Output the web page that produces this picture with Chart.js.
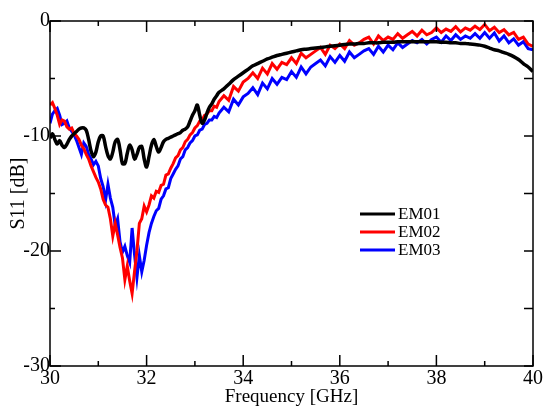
<!DOCTYPE html>
<html>
<head>
<meta charset="utf-8">
<script src="https://cdn.jsdelivr.net/npm/chart.js@4.4.1/dist/chart.umd.min.js"></script>
<style>
  html, body { margin: 0; padding: 0; background: #fff; }
  #cv { display: block; }
</style>
</head>
<body>
<canvas id="cv" width="546" height="408"></canvas>
<script>
// frequency samples [GHz]: 0.05 step up to 33.5, then 0.1 step
const FREQ = [
  30.00,30.05,30.10,30.15,30.20,30.25,30.30,30.35,30.40,30.45,
  30.50,30.55,30.60,30.65,30.70,30.75,30.80,30.85,30.90,30.95,
  31.00,31.05,31.10,31.15,31.20,31.25,31.30,31.35,31.40,31.45,
  31.50,31.55,31.60,31.65,31.70,31.75,31.80,31.85,31.90,31.95,
  32.00,32.05,32.10,32.15,32.20,32.25,32.30,32.35,32.40,32.45,
  32.50,32.55,32.60,32.65,32.70,32.75,32.80,32.85,32.90,32.95,
  33.00,33.05,33.10,33.15,33.20,33.25,33.30,33.35,33.40,33.45,33.50,
  33.6,33.7,33.8,33.9,
  34.0,34.1,34.2,34.3,34.4,34.5,34.6,34.7,34.8,34.9,
  35.0,35.1,35.2,35.3,35.4,35.5,35.6,35.7,35.8,35.9,
  36.0,36.1,36.2,36.3,36.4,36.5,36.6,36.7,36.8,36.9,
  37.0,37.1,37.2,37.3,37.4,37.5,37.6,37.7,37.8,37.9,
  38.0,38.1,38.2,38.3,38.4,38.5,38.6,38.7,38.8,38.9,
  39.0,39.1,39.2,39.3,39.4,39.5,39.6,39.7,39.8,39.9,
  40.0
];

const EM01 = [
  -10.2,-9.8,-10.3,-10.7,-10.4,-10.8,-11.0,-10.7,-10.3,-10.0,
  -9.8,-9.6,-9.4,-9.3,-9.3,-9.5,-10.3,-11.3,-11.8,-11.4,
  -10.5,-10.0,-10.0,-10.9,-11.7,-12.0,-11.4,-10.5,-10.3,-11.2,
  -12.4,-12.4,-11.5,-10.8,-11.2,-12.0,-11.6,-11.0,-10.9,-12.0,
  -12.7,-11.8,-10.8,-10.3,-10.9,-11.4,-11.0,-10.5,-10.3,-10.2,
  -10.1,-10.0,-9.9,-9.8,-9.7,-9.5,-9.4,-9.2,-8.7,-8.2,
  -7.8,-7.3,-8.2,-8.9,-8.6,-8.0,-7.5,-7.2,-6.8,-6.5,-6.2,
  -5.9,-5.5,-5.1,-4.8,
  -4.5,-4.2,-3.9,-3.7,-3.5,-3.3,-3.15,-3.0,-2.9,-2.8,
  -2.7,-2.6,-2.5,-2.45,-2.4,-2.35,-2.3,-2.25,-2.2,-2.15,
  -2.1,-2.05,-2.0,-2.0,-1.95,-1.95,-1.9,-1.9,-1.9,-1.85,
  -1.85,-1.85,-1.8,-1.8,-1.8,-1.8,-1.8,-1.8,-1.8,-1.8,
  -1.8,-1.85,-1.85,-1.9,-1.9,-1.95,-1.95,-2.0,-2.05,-2.1,
  -2.2,-2.35,-2.5,-2.6,-2.75,-2.9,-3.1,-3.35,-3.7,-4.0,
  -4.4
];

const EM02 = [
  -7.3,-7.1,-7.6,-8.2,-9.0,-8.6,-8.7,-9.2,-9.4,-9.3,
  -9.8,-10.0,-10.3,-10.8,-11.1,-11.6,-12.0,-12.6,-13.1,-13.6,
  -14.0,-14.6,-15.5,-16.0,-16.2,-17.2,-18.7,-17.6,-18.6,-19.7,
  -20.6,-22.5,-21.3,-22.6,-23.7,-21.8,-20.0,-17.6,-17.2,-16.1,
  -16.6,-16.0,-15.2,-15.4,-14.8,-14.9,-14.3,-14.2,-13.4,-13.3,
  -12.8,-12.4,-11.9,-11.7,-11.2,-11.0,-10.5,-10.3,-9.9,-9.7,
  -9.3,-9.1,-8.7,-8.6,-8.2,-8.1,-7.8,-7.8,-7.4,-7.5,-7.0,
  -6.5,-6.9,-5.7,-6.1,
  -5.3,-5.0,-4.5,-5.0,-4.1,-4.6,-3.7,-4.2,-3.6,-3.8,
  -3.2,-3.7,-2.8,-3.2,-2.9,-2.6,-2.3,-2.9,-2.1,-2.4,
  -2.0,-2.4,-1.7,-2.1,-1.9,-1.6,-1.4,-2.0,-1.3,-1.7,
  -1.4,-1.6,-1.1,-1.5,-1.2,-0.9,-1.3,-0.8,-1.2,-1.0,
  -0.6,-1.0,-0.7,-0.9,-0.5,-0.95,-0.6,-0.8,-0.45,-0.75,
  -0.3,-0.85,-0.55,-1.0,-0.75,-1.2,-1.0,-1.6,-1.4,-2.0,
  -2.2
];

const EM03 = [
  -8.9,-8.1,-7.8,-7.6,-8.2,-9.0,-8.9,-8.7,-9.3,-9.6,
  -9.9,-10.4,-11.0,-11.6,-10.6,-10.9,-11.6,-12.0,-12.5,-12.2,
  -12.6,-13.7,-14.4,-15.6,-14.2,-15.4,-16.2,-17.8,-17.2,-19.2,
  -20.1,-19.6,-20.4,-21.0,-18.0,-20.3,-22.3,-20.4,-21.8,-20.8,
  -19.5,-18.4,-17.6,-17.0,-16.5,-16.3,-15.5,-15.2,-14.6,-14.5,
  -13.7,-13.3,-12.9,-12.6,-12.0,-11.8,-11.2,-11.0,-10.6,-10.4,
  -10.0,-9.9,-9.5,-9.4,-9.0,-8.9,-8.6,-8.6,-8.3,-8.4,-8.0,
  -7.5,-7.9,-6.8,-7.3,
  -6.6,-6.3,-5.8,-6.4,-5.4,-5.9,-5.0,-5.5,-4.9,-5.1,
  -4.4,-4.9,-4.0,-4.6,-4.0,-3.7,-3.4,-3.9,-3.1,-3.6,
  -3.0,-3.5,-2.7,-3.2,-2.9,-2.6,-2.4,-2.9,-2.2,-2.7,
  -2.1,-2.5,-1.9,-2.3,-2.0,-1.7,-1.9,-1.6,-2.0,-1.6,
  -1.4,-1.85,-1.3,-1.7,-1.2,-1.6,-1.3,-1.5,-1.1,-1.5,
  -1.0,-1.5,-1.05,-1.75,-1.3,-1.9,-1.55,-2.1,-1.8,-2.4,
  -2.5
];

const SERIES = ['EM01', 'EM02', 'EM03'];
const X_TICKS = [30, 31, 32, 33, 34, 35, 36, 37, 38, 39, 40];
const Y_TICKS = [0, -5, -10, -15, -20, -25, -30];

const FONT = '"Liberation Serif", "Times New Roman", serif';
const COLORS = { EM01: '#000000', EM02: '#ff0000', EM03: '#0000ff' };

function pts(vals) {
  return vals.map((v, i) => ({ x: FREQ[i], y: v }));
}

// box, inward ticks and the legend
const frame = {
  id: 'frame',
  afterDatasetsDraw(chart) {
    const { ctx, chartArea: a, scales: { x, y } } = chart;
    ctx.save();
    ctx.strokeStyle = '#000';
    ctx.lineWidth = 1.5;
    ctx.strokeRect(a.left, a.top, a.right - a.left, a.bottom - a.top);
    ctx.beginPath();
    X_TICKS.forEach(v => {
      const px = x.getPixelForValue(v);
      const len = v % 2 === 0 ? 11 : 5;
      ctx.moveTo(px, a.bottom); ctx.lineTo(px, a.bottom - len);
      ctx.moveTo(px, a.top);    ctx.lineTo(px, a.top + len);
    });
    Y_TICKS.forEach(v => {
      const py = y.getPixelForValue(v);
      const len = v % 10 === 0 ? 11 : 5;
      ctx.moveTo(a.left, py);  ctx.lineTo(a.left + len, py);
      ctx.moveTo(a.right, py); ctx.lineTo(a.right - 9, py);
    });
    ctx.stroke();

    ctx.font = '17px ' + FONT;
    ctx.textBaseline = 'middle';
    ctx.fillStyle = '#000';
    chart.data.datasets.forEach((ds, i) => {
      const ly = 214 + i * 18;
      ctx.strokeStyle = ds.borderColor;
      ctx.lineWidth = 3;
      ctx.beginPath();
      ctx.moveTo(360, ly); ctx.lineTo(395, ly);
      ctx.stroke();
      ctx.fillText(ds.label, 398, ly + 1);
    });
    ctx.restore();
  }
};

new Chart(document.getElementById('cv'), {
  type: 'line',
  data: {
    datasets: SERIES.map((name, i) => ({
      label: name,
      data: pts([EM01, EM02, EM03][i]),
      borderColor: COLORS[name],
      borderWidth: name === 'EM01' ? 3.5 : 3,
      pointRadius: 0,
      tension: name === 'EM01' ? 0.35 : 0,
      fill: false
    }))
  },
  options: {
    responsive: false,
    animation: false,
    layout: { padding: { top: 21, right: 13, left: 0, bottom: 0 } },
    plugins: { legend: { display: false }, tooltip: { enabled: false } },
    scales: {
      x: {
        type: 'linear', min: 30, max: 40,
        afterFit: s => { s.height = 42; },
        grid: { display: false, drawTicks: false }, border: { display: false },
        ticks: { stepSize: 2, color: '#000', padding: 1, maxRotation: 0,
                 font: { family: FONT, size: 20 } },
        title: { display: true, text: 'Frequency [GHz]', color: '#000',
                 padding: { top: 0, bottom: 0 }, font: { family: FONT, size: 19 } }
      },
      y: {
        min: -30, max: 0,
        afterFit: s => { s.width = 50; },
        grid: { display: false, drawTicks: false }, border: { display: false },
        ticks: { stepSize: 10, color: '#000', padding: 0,
                 font: { family: FONT, size: 20 } },
        title: { display: true, text: 'S11 [dB]', color: '#000',
                 padding: { top: 7, bottom: 0 }, font: { family: FONT, size: 20 } }
      }
    }
  },
  plugins: [frame]
});
</script>
</body>
</html>
